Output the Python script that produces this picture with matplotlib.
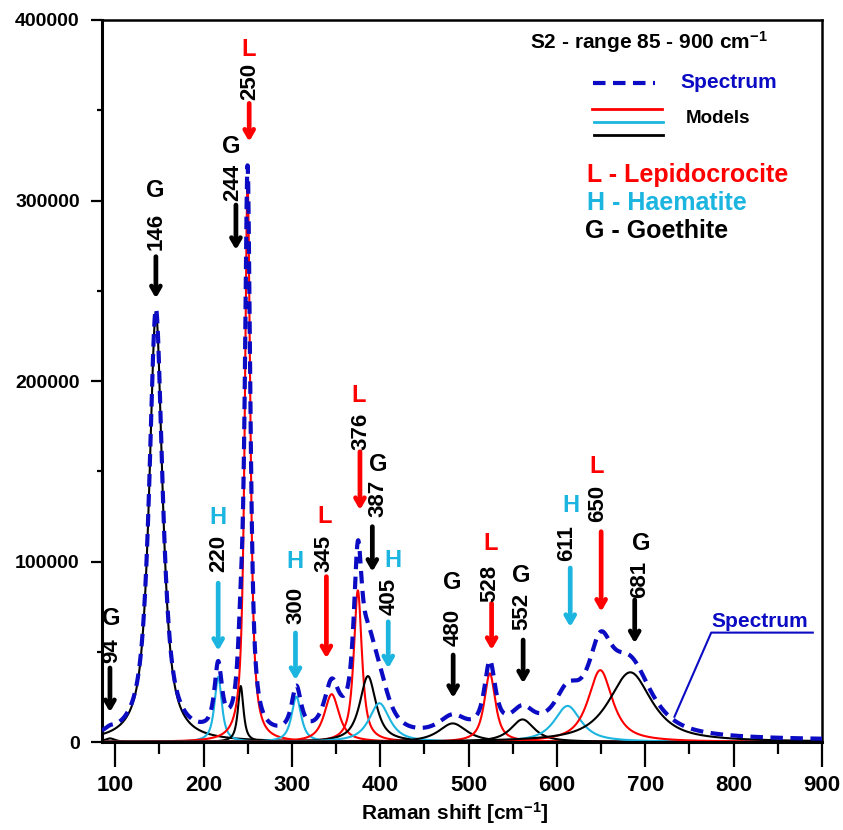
import matplotlib
matplotlib.use('Agg')
import matplotlib.pyplot as plt
import numpy as np
from matplotlib.ticker import MultipleLocator

plt.rcParams['font.family'] = 'Liberation Sans'
plt.rcParams['font.weight'] = 'bold'
plt.rcParams['mathtext.fontset'] = 'custom'
plt.rcParams['mathtext.rm'] = 'Liberation Sans:bold'
plt.rcParams['mathtext.bf'] = 'Liberation Sans:bold'
plt.rcParams['mathtext.default'] = 'bf'

# fitted model peaks: centre [cm-1], height, FWHM [cm-1], phase
peak_pos = [94, 146, 216.5, 242, 249.8, 305, 345, 374.6, 386, 399, 482, 524, 561, 612, 649, 683]
peak_height = [2000, 238000, 36000, 31000, 310000, 25100, 26500, 84000, 36500, 21500,
               10300, 38000, 12500, 20000, 39800, 38600]
peak_fwhm = [14, 18, 10, 7.5, 7.5, 13, 20, 11, 22, 28, 38, 15, 32, 36, 33, 58]
peak_phase = ['G', 'G', 'H', 'G', 'L', 'H', 'L', 'L', 'G', 'H', 'G', 'L', 'G', 'H', 'L', 'G']
baseline = 900
eta = 0.85  # lorentzian fraction of the pseudo-voigt

# labelled band positions
band_labels = ['94', '146', '220', '244', '250', '300', '345', '376', '387', '405',
               '480', '528', '552', '611', '650', '681']
band_phase = ['G', 'G', 'H', 'G', 'L', 'H', 'L', 'L', 'G', 'H', 'G', 'L', 'G', 'H', 'L', 'G']

colors = {'L': '#ff0000', 'H': '#1cb5e0', 'G': 'black'}
blue = '#0b0bc4'

# annotation layout: arrow x, arrow tail y, arrow head y, number x, number y, letter x, letter y
ann_layout = [
    (94, 41000, 16500, 96.5, 50500, 96, 68500),
    (146, 268900, 245800, 146, 282700, 145, 305800),
    (216.5, 88000, 50500, 217, 104700, 216, 124100),
    (236.6, 297500, 272600, 233.5, 310000, 231, 329800),
    (251.6, 353800, 332600, 252, 365800, 251, 383400),
    (304, 60400, 34300, 305, 75900, 303, 99900),
    (339, 91600, 46400, 336.5, 104700, 337, 124800),
    (377, 160800, 128500, 378, 171900, 376, 192200),
    (391, 119300, 94300, 397.6, 135000, 397.6, 153500),
    (409, 66600, 40800, 409.7, 80500, 414.6, 100800),
    (482.5, 48200, 24400, 482.5, 63700, 481.5, 88100),
    (526, 76800, 51000, 524, 87900, 525, 110000),
    (561.7, 56500, 32500, 560, 72200, 560, 92500),
    (615, 96400, 63700, 610.8, 110200, 615.7, 131300),
    (650, 116500, 72200, 646, 131900, 645, 152500),
    (688, 78700, 54700, 693.7, 90300, 695.6, 110000),
]


def pvoigt(x, c, a, w):
    lor = 1.0 / (1.0 + ((x - c) / (w / 2.0)) ** 2)
    gau = np.exp(-4 * np.log(2) * (x - c) ** 2 / w ** 2)
    return a * (eta * lor + (1 - eta) * gau)


x = np.linspace(85, 900, 4000)
models = [pvoigt(x, c, a, w) for c, a, w in zip(peak_pos, peak_height, peak_fwhm)]
spectrum = np.sum(models, axis=0) + baseline

fig = plt.figure(figsize=(8.43, 8.30), dpi=100)
ax = fig.add_axes([102 / 843, 88 / 830, 720 / 843, 722 / 830])

for m, ph in zip(models, peak_phase):
    ax.plot(x, m, color=colors[ph], lw=1.5, zorder=2)
ax.plot(x, spectrum, color=blue, lw=3, dashes=(3, 1.8), zorder=3)

ax.set_xlim(85, 900)
ax.set_ylim(0, 400000)
ax.xaxis.set_major_locator(MultipleLocator(100))
ax.xaxis.set_minor_locator(MultipleLocator(50))
ax.yaxis.set_major_locator(MultipleLocator(100000))
ax.yaxis.set_minor_locator(MultipleLocator(50000))
ax.tick_params(axis='x', which='major', direction='out', length=18, width=1.6, labelsize=16, pad=6)
ax.tick_params(axis='x', which='minor', direction='out', length=8.5, width=1.6)
ax.tick_params(axis='y', which='major', direction='out', length=8, width=1.6, labelsize=14, pad=8)
ax.tick_params(axis='y', which='minor', direction='out', length=3.6, width=1.6)
ax.ticklabel_format(axis='y', style='plain')
for s in ['left', 'bottom']:
    ax.spines[s].set_linewidth(2.2)
for s in ['top', 'right']:
    ax.spines[s].set_linewidth(1.8)

ax.set_xlabel('Raman shift [cm$^{-1}$]', fontsize=15, fontweight='bold')
ax.xaxis.set_label_coords(0.49, -0.081)

# band annotations
for lab, ph, lay in zip(band_labels, band_phase, ann_layout):
    xa, yt, yh, xn, yn, xl, yl = lay
    ax.annotate('', xy=(xa, yh), xytext=(xa, yt),
                arrowprops=dict(arrowstyle='->,head_length=0.55,head_width=0.32',
                                color=colors[ph], lw=3.4, shrinkA=0, shrinkB=0))
    ax.text(xn, yn, lab, rotation=90, ha='center', va='center', fontsize=16,
            fontweight='bold', color='black')
    ax.text(xl, yl, ph, ha='center', va='center', fontsize=17,
            fontweight='bold', color=colors[ph])

# spectrum call-out
ax.text(774.6, 66800, 'Spectrum', ha='left', va='center', fontsize=15,
        fontweight='bold', color=blue)
ax.plot([733, 774.6, 889.6], [14000, 60600, 60600], color=blue, lw=1.5)

# legend block
tr = ax.transAxes
ax.text(0.594, 0.970, 'S2 - range 85 - 900 cm$^{-1}$', transform=tr, ha='left',
        va='center', fontsize=15, fontweight='bold')
ax.plot([0.682, 0.768], [0.9127, 0.9127], transform=tr, color=blue, lw=3, dashes=(3, 1.8))
ax.text(0.803, 0.913, 'Spectrum', transform=tr, ha='left', va='center', fontsize=15,
        fontweight='bold', color=blue)
ax.plot([0.681, 0.778], [0.8767, 0.8767], transform=tr, color=colors['L'], lw=2)
ax.plot([0.683, 0.779], [0.8591, 0.8591], transform=tr, color=colors['H'], lw=2)
ax.plot([0.683, 0.779], [0.8407, 0.8407], transform=tr, color=colors['G'], lw=2)
ax.text(0.811, 0.8629, 'Models', transform=tr, ha='left', va='center', fontsize=13.5,
        fontweight='bold')
ax.text(0.674, 0.7853, 'L - Lepidocrocite', transform=tr, ha='left', va='center',
        fontsize=18, fontweight='bold', color=colors['L'])
ax.text(0.674, 0.747, 'H - Haematite', transform=tr, ha='left', va='center',
        fontsize=18, fontweight='bold', color=colors['H'])
ax.text(0.671, 0.708, 'G - Goethite', transform=tr, ha='left', va='center',
        fontsize=18, fontweight='bold', color=colors['G'])

fig.savefig('out.png', dpi=100)
